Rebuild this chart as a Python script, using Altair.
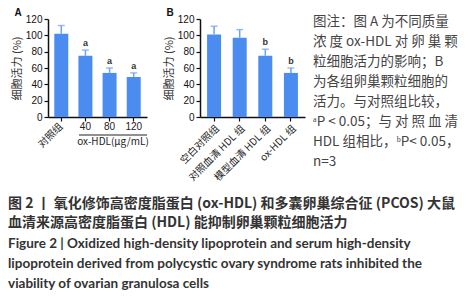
import altair as alt
import pandas as pd

# ---- data ----
a_groups = ["对照组", "40", "80", "120"]
a_means = [102, 75, 54, 49]
a_sd = [10, 7, 6, 5]
a_sig = ["", "a", "a", "a"]

b_groups = ["空白对照组", "对照血清 HDL 组", "模型血清 HDL 组", "ox-HDL 组"]
b_means = [101, 97, 75, 54]
b_sd = [10, 10, 8, 6]
b_sig = ["", "", "b", "b"]

y_ticks = [0, 20, 40, 60, 80, 100, 120]

note_lines = [
    "图注：图 A 为不同质量",
    "浓 度 ox-HDL 对 卵 巢 颗",
    "粒细胞活力的影响；B",
    "为各组卵巢颗粒细胞的",
    "活力。与对照组比较，",
    "ᵃP < 0.05；与 对 照 血 清",
    "HDL 组相比，ᵇP< 0.05，",
    "n=3",
]
caption_cn = [
    "图 2 丨 氧化修饰高密度脂蛋白 (ox-HDL) 和多囊卵巢综合征 (PCOS) 大鼠",
    "血清来源高密度脂蛋白 (HDL) 能抑制卵巢颗粒细胞活力",
]
caption_en = [
    "Figure 2  |  Oxidized high-density lipoprotein and serum high-density",
    "lipoprotein derived from polycystic ovary syndrome rats inhibited the",
    "viability of ovarian granulosa cells",
]

BAR = "#4a8cf0"
ERR = "#6aa2f4"
CJK = "Noto Sans CJK SC"
H = 98

dfa = pd.DataFrame({"g": a_groups, "m": a_means, "sd": a_sd, "sig": a_sig})
dfa["up"] = dfa["m"] + dfa["sd"]
dfb = pd.DataFrame({"g": b_groups, "m": b_means, "sd": b_sd, "sig": b_sig})
dfb["up"] = dfb["m"] + dfb["sd"]

yscale = alt.Scale(domain=[0, 120], nice=False)
YAX = alt.Axis(values=y_ticks, title="细胞活力 (%)", titleFont=CJK,
               titleFontSize=11, titleFontWeight="normal", titleColor="#333",
               titlePadding=3, labelFont="Liberation Sans", labelFontSize=10,
               labelColor="#111", labelPadding=2, labelOverlap=False,
               domainColor="#111", domainWidth=1.5, tickColor="#111",
               tickSize=4, tickWidth=1.2, grid=False)


def Y(field):
    return alt.Y(field, scale=yscale, axis=YAX, title="细胞活力 (%)")


def panel(df, groups, xaxis, letter):
    xs = alt.Scale(domain=groups, paddingInner=0.4, paddingOuter=0.25)
    base = alt.Chart(df)
    x = alt.X("g:N", sort=groups, scale=xs, axis=xaxis, title=None)
    bars = base.mark_bar(color=BAR, size=14).encode(x=x, y=Y("m:Q"))
    err = base.mark_rule(color=ERR, strokeWidth=1.5).encode(
        x=x, y=Y("m:Q"), y2="up:Q")
    cap = base.mark_tick(color=ERR, size=7, thickness=1.5).encode(
        x=x, y=Y("up:Q"))
    sig = base.mark_text(fontSize=9, fontWeight="bold", color="#333",
                         dy=-7, font="Liberation Sans").encode(
        x=x, y=Y("up:Q"), text="sig:N")
    lab = alt.Chart(pd.DataFrame({"t": [letter]})).mark_text(
        fontSize=10, fontWeight="bold", font="Liberation Sans", color="#111",
        align="center", baseline="middle").encode(
        text="t:N", x=alt.value(-30), y=alt.value(-6))
    return [bars, err, cap, sig, lab], x


# ---- panel A ----
axA = alt.Axis(labels=False, domainColor="#111", domainWidth=1.5,
               tickColor="#111", tickSize=4, tickWidth=1.2, title=None)
layersA, xA = panel(dfa, a_groups, axA, "A")
lab_ctrl = alt.Chart(dfa).transform_filter(alt.datum.g == "对照组").mark_text(
    font=CJK, fontSize=10, angle=315, align="right", baseline="middle",
    color="#222").encode(x=xA, y=alt.value(H + 8), text="g:N")
lab_num = alt.Chart(dfa).transform_filter(alt.datum.g != "对照组").mark_text(
    font="Liberation Sans", fontSize=10, align="center", baseline="top",
    color="#222").encode(x=xA, y=alt.value(H + 5), text="g:N")
bracket = alt.Chart(pd.DataFrame({"k": [1]})).mark_rule(
    color="#222", strokeWidth=1.2).encode(
    x=alt.value(31), x2=alt.value(99), y=alt.value(H + 18))
unit = alt.Chart(pd.DataFrame({"t": ["ox-HDL(μg/mL)"]})).mark_text(
    font=CJK, fontSize=10, align="center", baseline="top", color="#222").encode(
    text="t:N", x=alt.value(65), y=alt.value(H + 20))
chartA = alt.layer(*layersA, lab_ctrl, lab_num, bracket, unit).properties(
    width=99, height=H)

# ---- panel B ----
axB = alt.Axis(labelAngle=-45, labelFont=CJK, labelFontSize=10,
               labelColor="#222", labelPadding=2, labelLimit=200,
               domainColor="#111", domainWidth=1.5, tickColor="#111",
               tickSize=4, tickWidth=1.2, title=None)
layersB, xB = panel(dfb, b_groups, axB, "B")

cover = alt.Chart(pd.DataFrame({"k": [1]})).mark_rect(color="white").encode(
    x=alt.value(-30), x2=alt.value(110), y=alt.value(166), y2=alt.value(176))

extra = [cover]
for i, t in enumerate(note_lines):
    extra.append(alt.Chart(pd.DataFrame({"t": [t]})).mark_text(
        font=CJK, fontSize=13.5, align="left", baseline="middle",
        color="#444").encode(text="t:N", x=alt.value(113), y=alt.value(3 + 20 * i)))
for i, t in enumerate(caption_cn):
    extra.append(alt.Chart(pd.DataFrame({"t": [t]})).mark_text(
        font=CJK, fontSize=14, fontWeight="bold", align="left",
        baseline="middle", color="#333").encode(
        text="t:N", x=alt.value(-192), y=alt.value(185 + 19 * i)))
for i, t in enumerate(caption_en):
    extra.append(alt.Chart(pd.DataFrame({"t": [t]})).mark_text(
        font="Lato", fontSize=13.5, fontWeight="bold", align="left",
        baseline="middle", color="#333").encode(
        text="t:N", x=alt.value(-192), y=alt.value(225 + 20 * i)))

chartB = alt.layer(*layersB, *extra).properties(width=105, height=H)

chart = alt.hconcat(chartA, chartB, spacing=53, bounds="flush").properties(
    padding={"left": 8, "top": 8, "right": 0, "bottom": 0},
    background="white",
).configure_view(stroke=None)

chart.save("out.html", embed_options={"renderer": "svg", "actions": False})
